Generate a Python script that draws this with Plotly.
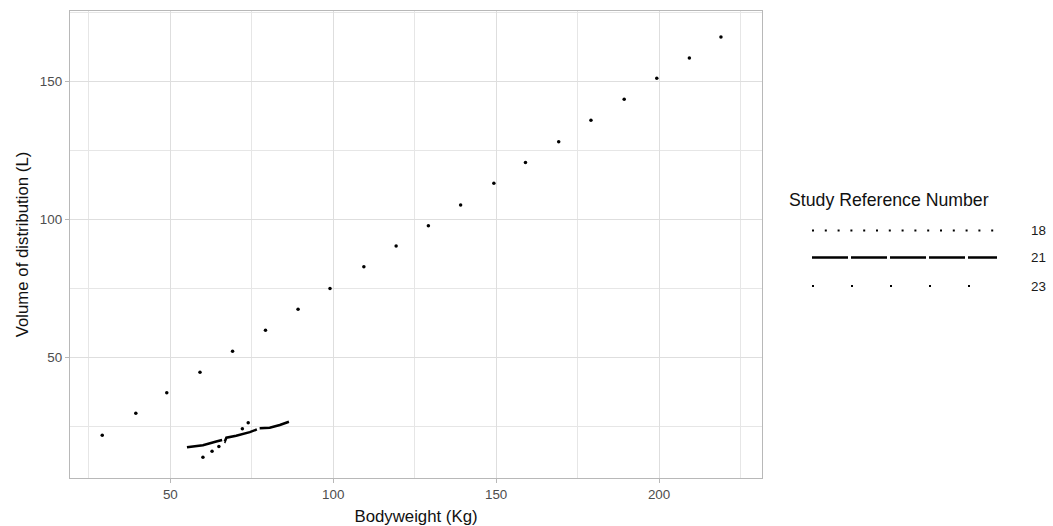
import plotly.graph_objects as go

# ---------------- data ----------------
study_ids = ["18", "21", "23"]

bw_18 = [60.0, 62.8, 64.9, 72.1, 73.9]
vd_18 = [13.9, 16.1, 17.8, 24.2, 26.4]

bw_21 = [55.1, 60.0, 64.1, 65.9, 66.7, 67.2, 70.2, 74.4, 77.4, 80.5, 83.6, 86.4]
vd_21 = [17.5, 18.3, 19.6, 20.2, 19.6, 21.0, 21.7, 23.0, 24.4, 24.6, 25.6, 26.8]

bw_23 = [29.1, 39.4, 48.9, 59.1, 69.1, 79.2, 89.2, 99.0, 109.4, 119.3,
         129.2, 139.1, 149.3, 159.0, 169.2, 179.1, 189.3, 199.3, 209.3, 219.0]
vd_23 = [21.9, 29.9, 37.3, 44.7, 52.3, 59.9, 67.5, 75.1, 82.9, 90.5,
         97.8, 105.3, 113.2, 120.7, 128.2, 136.0, 143.6, 151.2, 158.6, 166.2]

x_ticks = [50, 100, 150, 200]
y_ticks = [50, 100, 150]

# ---------------- layout constants ----------------
W, H = 1053, 526
L, R, T, B = 70, 762, 11, 478
FONT = "Liberation Sans, Arial, sans-serif"
GRID = "#DEDEDE"
MINOR = "#E6E6E6"
BORDER = "#B8B8B8"

fig = go.Figure()

fig.add_trace(go.Scatter(x=bw_18, y=vd_18, mode="markers", name=study_ids[0],
                         marker=dict(color="black", size=3.5, line=dict(width=0)),
                         showlegend=False))
fig.add_trace(go.Scatter(x=bw_21, y=vd_21, mode="lines", name=study_ids[1],
                         line=dict(color="black", width=2.5, dash="36px,3px"),
                         showlegend=False))
fig.add_trace(go.Scatter(x=bw_23, y=vd_23, mode="markers", name=study_ids[2],
                         marker=dict(color="black", size=3.5, line=dict(width=0)),
                         showlegend=False))

axis_common = dict(
    ticks="outside", ticklen=4, tickwidth=1, tickcolor=BORDER,
    showline=True, mirror=True, linecolor=BORDER, linewidth=1.3,
    showgrid=True, gridcolor=GRID, gridwidth=1.2, zeroline=False,
    tickfont=dict(family=FONT, size=13.4, color="#4D4D4D"),
)

fig.update_xaxes(range=[19.2, 231.6], tickvals=x_ticks,
                 minor=dict(tick0=25, dtick=50, showgrid=True,
                            gridcolor=MINOR, gridwidth=1, ticks=""),
                 title=dict(text="Bodyweight (Kg)", standoff=9,
                            font=dict(family=FONT, size=16.8, color="#111111")),
                 **axis_common)
fig.update_yaxes(range=[6.4, 175.6], tickvals=y_ticks,
                 minor=dict(tick0=25, dtick=50, showgrid=True,
                            gridcolor=MINOR, gridwidth=1, ticks=""),
                 title=dict(text="Volume of distribution (L)", standoff=6,
                            font=dict(family=FONT, size=16.8, color="#111111")),
                 **axis_common)

# ---------------- manual legend (ggplot-style long keys) ----------------
def px(xp):
    return (xp - L) / (R - L)

def py(yp):
    return (B - yp) / (B - T)

key_x0, key_x1 = 812, 997
key_rows = [
    (study_ids[0], 230.5, dict(color="black", width=2, dash="2px,10.8px")),
    (study_ids[1], 257.5, dict(color="black", width=2.5, dash="36px,3px")),
    (study_ids[2], 286.0, dict(color="black", width=2, dash="2px,37px")),
]
shapes = []
annotations = [dict(text="Study Reference Number", xref="paper", yref="paper",
                    x=px(787), y=py(200), xanchor="left", yanchor="middle",
                    showarrow=False,
                    font=dict(family=FONT, size=17.7, color="#111111"))]
for label, yk, ln in key_rows:
    shapes.append(dict(type="line", xref="paper", yref="paper",
                       x0=px(key_x0), x1=px(key_x1), y0=py(yk), y1=py(yk),
                       line=ln))
    annotations.append(dict(text=label, xref="paper", yref="paper",
                            x=px(1029), y=py(yk), xanchor="left", yanchor="middle",
                            showarrow=False,
                            font=dict(family=FONT, size=13.4, color="#1A1A1A")))

fig.update_layout(
    width=W, height=H,
    margin=dict(l=L, r=W - R, t=T, b=H - B, autoexpand=False),
    plot_bgcolor="white", paper_bgcolor="white",
    font=dict(family=FONT),
    shapes=shapes, annotations=annotations,
    showlegend=False,
)

fig.write_html("out.html", config={"displayModeBar": False},
               post_script="document.body.style.margin='0px';document.body.style.padding='0px';")
